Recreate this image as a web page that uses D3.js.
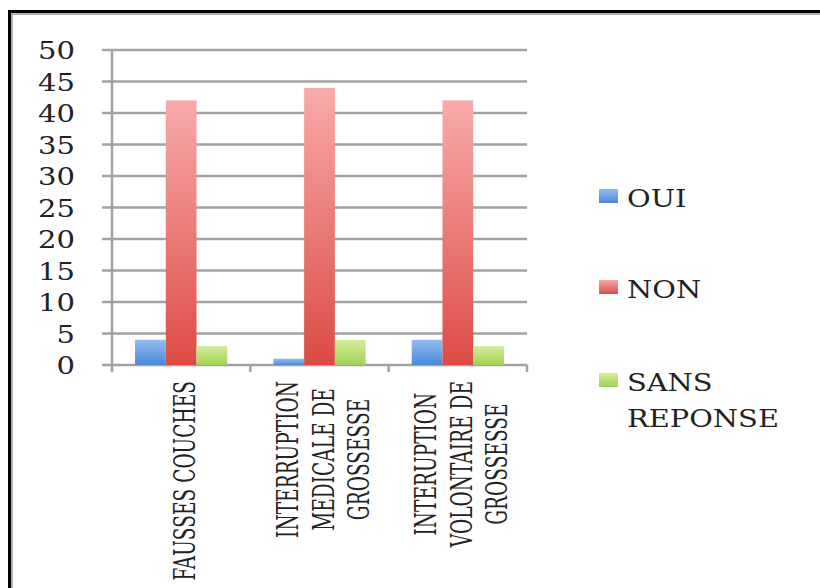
<!DOCTYPE html>
<html>
<head>
<meta charset="utf-8">
<script src="https://cdn.jsdelivr.net/npm/d3@7"></script>
<style>
  html, body { margin: 0; padding: 0; background: #fff; }
  svg { display: block; }
</style>
</head>
<body>
<div id="chart"></div>
<script>
// data
const categories = [
    ["FAUSSES COUCHES"],
    ["INTERRUPTION", "MEDICALE DE", "GROSSESSE"],
    ["INTERUPTION", "VOLONTAIRE DE", "GROSSESSE"]
];
const seriesNames = ["OUI", "NON", "SANS REPONSE"];
const oui = [4, 1, 4];
const non = [42, 44, 42];
const sansReponse = [3, 4, 3];
const yTicks = [0, 5, 10, 15, 20, 25, 30, 35, 40, 45, 50];

const seriesValues = [oui, non, sansReponse];
const colors = [
    { top: "#93bdf0", bottom: "#4a88db" },
    { top: "#f8aaaa", bottom: "#dc4b45" },
    { top: "#d4ee9c", bottom: "#a2cf55" }
];

const width = 820, height = 588;
const plot = { left: 112, right: 527, top: 50, bottom: 365 };
const serif = "DejaVu Serif, serif";

const svg = d3.select("#chart").append("svg")
    .attr("width", width)
    .attr("height", height)
    .style("font-family", serif)
    .attr("fill", "#222");

// width of a string at a given size, used to fit the stretched lettering
function measure(str, size) {
    const t = svg.append("text").attr("font-size", size).text(str);
    const w = t.node().getComputedTextLength();
    t.remove();
    return w;
}

// gradients for bars
const defs = svg.append("defs");
colors.forEach((c, i) => {
    const g = defs.append("linearGradient")
        .attr("id", "grad" + i)
        .attr("x1", 0).attr("y1", 0).attr("x2", 0).attr("y2", 1);
    g.append("stop").attr("offset", "0%").attr("stop-color", c.top);
    g.append("stop").attr("offset", "100%").attr("stop-color", c.bottom);
});

// frame
svg.append("rect")
    .attr("x", 9.5).attr("y", 11.5)
    .attr("width", 900).attr("height", 700)
    .attr("fill", "none").attr("stroke", "#000").attr("stroke-width", 3);
svg.append("rect")
    .attr("x", 12).attr("y", 14)
    .attr("width", 900).attr("height", 700)
    .attr("fill", "none").attr("stroke", "#b0b0b0").attr("stroke-width", 2);

const catIdx = d3.range(categories.length);
const x0 = d3.scaleBand()
    .domain(catIdx)
    .range([plot.left, plot.right])
    .padding(0);
const x1 = d3.scaleBand()
    .domain(d3.range(seriesNames.length))
    .range([0, x0.bandwidth()])
    .paddingInner(0)
    .paddingOuter(0.75);
const y = d3.scaleLinear()
    .domain([0, 50])
    .range([plot.bottom, plot.top]);

const gridColor = "#a2a2a2";

// gridlines + left tick marks
svg.append("g")
    .selectAll("line")
    .data(yTicks)
    .join("line")
    .attr("x1", plot.left - 10)
    .attr("x2", plot.right)
    .attr("y1", d => y(d))
    .attr("y2", d => y(d))
    .attr("stroke", gridColor)
    .attr("stroke-width", 2.5);

// y axis line
svg.append("line")
    .attr("x1", plot.left).attr("x2", plot.left)
    .attr("y1", y(50)).attr("y2", plot.bottom + 7)
    .attr("stroke", gridColor).attr("stroke-width", 2.5);

// x axis ticks at category boundaries
const boundaries = catIdx.map(i => x0(i)).concat([plot.right]);
svg.append("g")
    .selectAll("line")
    .data(boundaries.slice(1))
    .join("line")
    .attr("x1", d => d).attr("x2", d => d)
    .attr("y1", plot.bottom).attr("y2", plot.bottom + 7)
    .attr("stroke", gridColor).attr("stroke-width", 2.5);

// y tick labels (lettering in the picture is stretched sideways)
const tickFont = 24.5;
const stretchTick = 37 / measure("50", tickFont);
svg.append("g")
    .selectAll("text")
    .data(yTicks)
    .join("text")
    .attr("transform", d => `translate(${plot.left - 37},${y(d) + 9}) scale(${stretchTick},1)`)
    .attr("text-anchor", "end")
    .attr("font-size", tickFont)
    .text(d => d);

// bars
seriesValues.forEach((vals, s) => {
    svg.append("g")
        .selectAll("rect")
        .data(vals)
        .join("rect")
        .attr("x", (d, i) => x0(i) + x1(s))
        .attr("width", x1.bandwidth())
        .attr("y", d => y(d))
        .attr("height", d => y(0) - y(d))
        .attr("fill", `url(#grad${s})`);
});

// rotated category labels
const catFont = 21.5 * 157 / measure("INTERRUPTION", 21.5);
const stretchCat = 21 / (0.72 * catFont);
const lineGap = 35.5;
const labelTop = 381;
categories.forEach((lines, i) => {
    const g = svg.append("g");
    const center = x0(i) + x0.bandwidth() / 2 + 4;
    const texts = lines.map((line, j) => {
        const cx = center + (j - (lines.length - 1) / 2) * lineGap;
        return g.append("text")
            .attr("text-anchor", "middle")
            .attr("font-size", catFont)
            .text(line)
            .datum(cx);
    });
    const maxLen = d3.max(texts, t => t.node().getComputedTextLength());
    const cy = labelTop + maxLen / 2;
    texts.forEach(t => {
        const cx = t.datum();
        t.attr("transform", `translate(${cx + 10},${cy}) scale(${stretchCat},1) rotate(-90)`);
    });
});

// legend
const legendFont = 24.5;
const stretchLegend = 152 / measure("REPONSE", legendFont);
const legendX = 599;
const legendBase = [207, 298, 391];
const legend = svg.append("g");
seriesNames.forEach((name, s) => {
    legend.append("rect")
        .attr("x", legendX)
        .attr("y", legendBase[s] - 18)
        .attr("width", 19)
        .attr("height", 14)
        .attr("fill", `url(#grad${s})`);
    const words = s === 2 ? ["SANS", "REPONSE"] : [name];
    words.forEach((w, k) => {
        legend.append("text")
            .attr("transform", `translate(${legendX + 28},${legendBase[s] + k * 36}) scale(${stretchLegend},1)`)
            .attr("font-size", legendFont)
            .text(w);
    });
});
</script>
</body>
</html>
